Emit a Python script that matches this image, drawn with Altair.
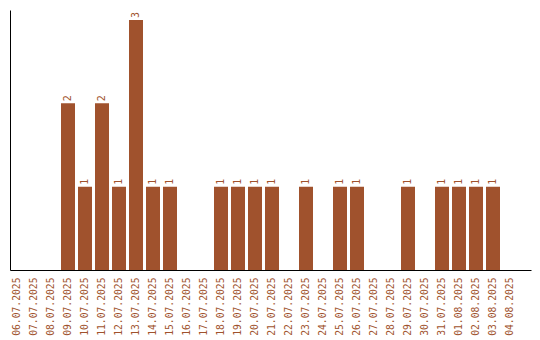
import altair as alt
import pandas as pd

dates = ["06.07.2025", "07.07.2025", "08.07.2025", "09.07.2025", "10.07.2025",
         "11.07.2025", "12.07.2025", "13.07.2025", "14.07.2025", "15.07.2025",
         "16.07.2025", "17.07.2025", "18.07.2025", "19.07.2025", "20.07.2025",
         "21.07.2025", "22.07.2025", "23.07.2025", "24.07.2025", "25.07.2025",
         "26.07.2025", "27.07.2025", "28.07.2025", "29.07.2025", "30.07.2025",
         "31.07.2025", "01.08.2025", "02.08.2025", "03.08.2025", "04.08.2025"]
counts = [0, 0, 0, 2, 1, 2, 1, 3, 1, 1,
          0, 0, 1, 1, 1, 1, 0, 1, 0, 1,
          1, 0, 0, 1, 0, 1, 1, 1, 1, 0]

df = pd.DataFrame({"date": dates, "count": counts})
COLOR = "#A0522D"
FONT = "DejaVu Sans Mono"

x = alt.X("date:N", sort=dates,
          scale=alt.Scale(domain=dates, paddingInner=3/17, paddingOuter=7/17, align=0),
          axis=alt.Axis(title=None, labelAngle=270, labelColor=COLOR, labelFont=FONT,
                        labelFontSize=9.7, ticks=False, labelPadding=7, domainColor="black",
                        domainWidth=1, grid=False))
y = alt.Y("count:Q", scale=alt.Scale(domain=[0, 3.12], nice=False, zero=True),
          axis=alt.Axis(title=None, labels=False, ticks=False, grid=False,
                        domainColor="black", domainWidth=1))

base = alt.Chart(df)
bars = base.transform_filter("datum.count > 0").mark_bar(color=COLOR).encode(x=x, y=y)
text = base.transform_filter("datum.count > 0").mark_text(
    angle=270, align="left", baseline="middle", dx=2, color=COLOR,
    font=FONT, fontSize=10).encode(x=x, y=y, text="count:Q")

chart = (bars + text).properties(
    width=521, height=260,
    autosize=alt.AutoSizeParams(type="none"),
    padding={"left": 10, "top": 10, "right": 9, "bottom": 70},
    background="white",
).configure_view(strokeWidth=0)

chart.save("out.html", embed_options={"renderer": "svg", "actions": False})
